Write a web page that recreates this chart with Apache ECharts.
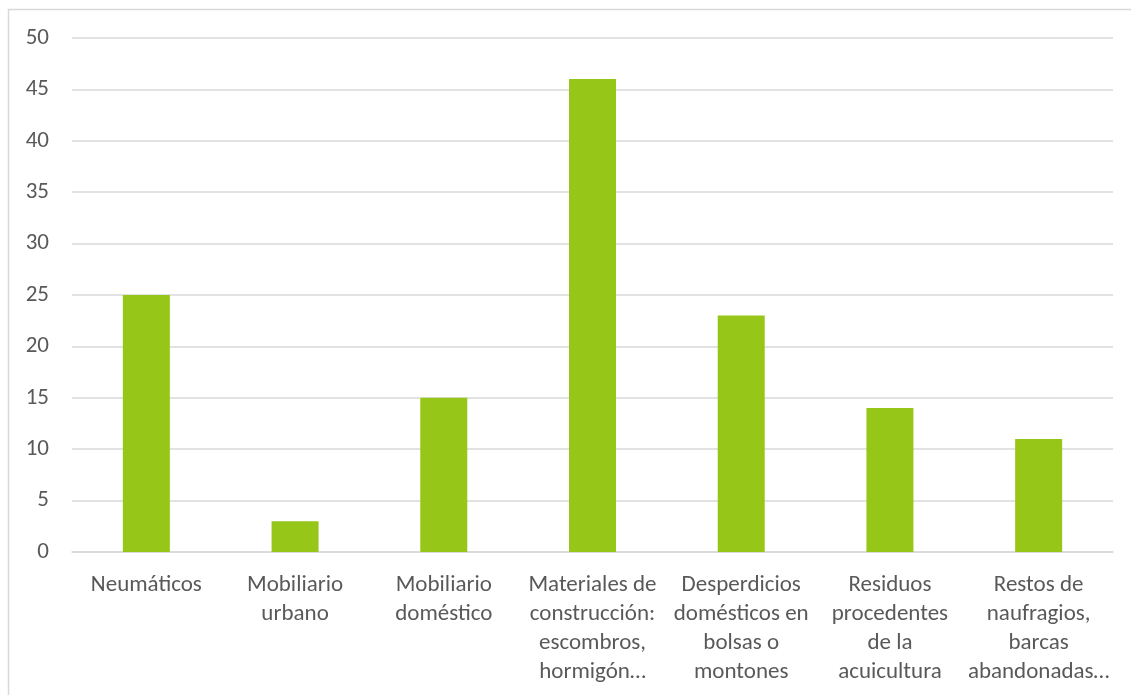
<!DOCTYPE html>
<html>
<head>
<meta charset="utf-8">
<script src="https://cdn.jsdelivr.net/npm/echarts@6/dist/echarts.min.js"></script>
<style>
  html, body { margin: 0; padding: 0; background: #ffffff; }
  #chart { width: 1131px; height: 695px; }
</style>
</head>
<body>
<div id="chart"></div>
<script>
// Categories (with line breaks as shown under each bar)
const categories = [
  'Neumáticos',
  'Mobiliario\nurbano',
  'Mobiliario\ndoméstico',
  'Materiales de\nconstrucción:\nescombros,\nhormigón…',
  'Desperdicios\ndomésticos en\nbolsas o\nmontones',
  'Residuos\nprocedentes\nde la\nacuicultura',
  'Restos de\nnaufragios,\nbarcas\nabandonadas…'
];
const values = [25, 3, 15, 46, 23, 14, 11];
const yTicks = { min: 0, max: 50, interval: 5 };

const FONT = 'Carlito, Lato, "Noto Sans", sans-serif';
const TEXT = '#595959';
const GRID = '#D9D9D9';

const chart = echarts.init(document.getElementById('chart'), null, { renderer: 'canvas' });
chart.setOption({
  backgroundColor: '#ffffff',
  animation: false,
  graphic: [{
    type: 'rect',
    shape: { x: 8.5, y: 9.5, width: 1300, height: 900 },
    style: { fill: 'none', stroke: GRID, lineWidth: 1.5 },
    silent: true,
    z: -1
  }],
  grid: { left: 72, right: 18, top: 38, bottom: 143, containLabel: false },
  xAxis: {
    type: 'category',
    data: categories,
    axisLine: { show: true, lineStyle: { color: GRID, width: 1.5 } },
    axisTick: { show: false },
    axisLabel: {
      interval: 0,
      color: TEXT,
      fontFamily: FONT,
      fontSize: 23,
      lineHeight: 29,
      margin: 19,
      align: 'center'
    }
  },
  yAxis: {
    type: 'value',
    min: yTicks.min,
    max: yTicks.max,
    interval: yTicks.interval,
    axisLine: { show: false },
    axisTick: { show: false },
    splitLine: { lineStyle: { color: GRID, width: 1.5 } },
    axisLabel: {
      color: TEXT,
      fontFamily: FONT,
      fontSize: 23,
      margin: 23
    }
  },
  series: [{
    type: 'bar',
    data: values,
    barWidth: '31.6%',
    itemStyle: { color: '#96C617' }
  }]
});
</script>
</body>
</html>
